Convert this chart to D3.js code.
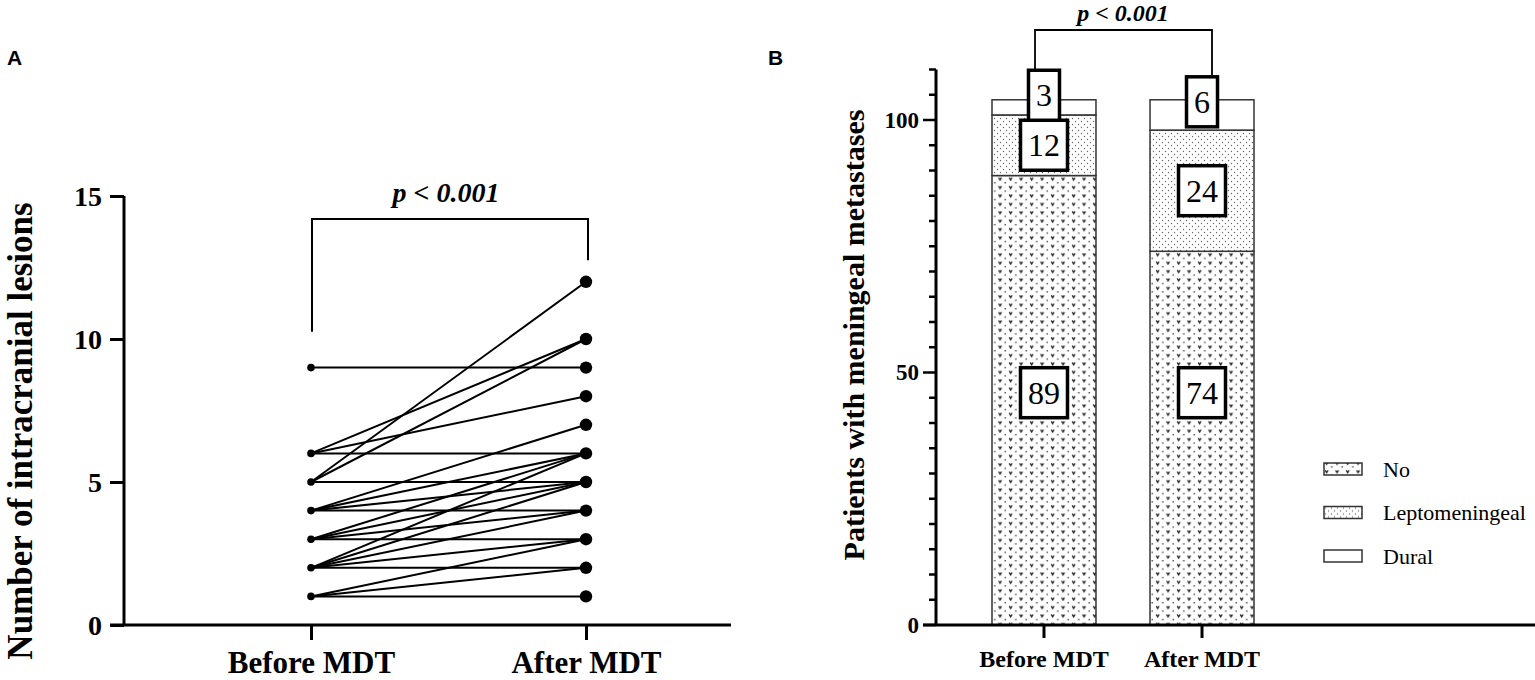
<!DOCTYPE html>
<html><head><meta charset="utf-8">
<script src="https://cdn.jsdelivr.net/npm/d3@7"></script>
<style>html,body{margin:0;padding:0;background:#fff;}svg{display:block;}</style>
</head><body>
<svg id="c" width="1535" height="680"></svg>
<script>
// ---------- DATA ----------
const categoriesA = ["Before MDT", "After MDT"];
const lesionsBefore = [9, 6, 6, 6, 5, 5, 5, 4, 4, 4, 4, 3, 3, 3, 3, 2, 2, 2, 2, 2, 1, 1, 1];
const lesionsAfter  = [9, 10, 8, 6, 12, 10, 5, 7, 6, 5, 4, 6, 5, 4, 3, 6, 5, 4, 3, 2, 3, 2, 1];
const yTicksA = [0, 5, 10, 15];

const categoriesB = ["Before MDT", "After MDT"];
const seriesB = ["No", "Leptomeningeal", "Dural"];
const noValues = [89, 74];
const leptoValues = [12, 24];
const duralValues = [3, 6];
const yMajorTicksB = [0, 50, 100];
const yMinorTicksB = d3.range(0, 111, 5);
const pText = "p < 0.001";

// ---------- SETUP ----------
const svg = d3.select("#c");
const serif = "'Liberation Serif','Times New Roman',serif";
const sans = "'Liberation Sans',Arial,sans-serif";

const defs = svg.append("defs");
const pNo = defs.append("pattern").attr("id", "patNo").attr("patternUnits", "userSpaceOnUse")
  .attr("width", 10.5).attr("height", 8.4);
pNo.append("rect").attr("width", 10.5).attr("height", 8.4).attr("fill", "#fff");
pNo.append("path").attr("d", "M1.2,1.3 L2.6,3.6 L4.0,1.3").attr("fill", "none").attr("stroke", "#222").attr("stroke-width", 1.3);
pNo.append("circle").attr("cx", 7.8).attr("cy", 6.3).attr("r", 0.8).attr("fill", "#333");
const pLep = defs.append("pattern").attr("id", "patLep").attr("patternUnits", "userSpaceOnUse")
  .attr("width", 6).attr("height", 6);
pLep.append("rect").attr("width", 6).attr("height", 6).attr("fill", "#fff");
pLep.append("circle").attr("cx", 1.5).attr("cy", 1.5).attr("r", 0.7).attr("fill", "#666");
pLep.append("circle").attr("cx", 4.5).attr("cy", 4.5).attr("r", 0.7).attr("fill", "#666");
const fills = {"No": "url(#patNo)", "Leptomeningeal": "url(#patLep)", "Dural": "#fff"};

// ---------- PANEL A ----------
const xA = d3.scalePoint().domain(categoriesA).range([311, 586]);
const yA = d3.scaleLinear().domain([0, 15]).range([625, 196]);
const gA = svg.append("g");

const yAxisA = d3.axisLeft(yA).tickValues(yTicksA).tickSize(14).tickPadding(8);
const gyA = gA.append("g").attr("transform", "translate(124,0)").call(yAxisA);
gyA.select(".domain").attr("stroke-width", 3).attr("d", `M0,${yA(15)}V${yA(0)}`);
gyA.selectAll(".tick line").attr("stroke-width", 3);
gyA.selectAll(".tick text").attr("font-family", serif).attr("font-weight", "bold").attr("font-size", 28).attr("dy", "0.34em");

const xAxisA = d3.axisBottom(xA).tickSize(15).tickPadding(11);
const gxA = gA.append("g").attr("transform", `translate(0,${yA(0)})`).call(xAxisA);
gxA.select(".domain").attr("stroke-width", 3).attr("d", "M110,0H731");
gxA.selectAll(".tick line").attr("stroke-width", 3);
gxA.selectAll(".tick text").attr("font-family", serif).attr("font-weight", "bold").attr("font-size", 31).attr("fill", "#000");

const pairs = lesionsBefore.map((b, i) => ({b, a: lesionsAfter[i]}));
gA.append("g").selectAll("line").data(pairs).join("line")
  .attr("x1", xA(categoriesA[0])).attr("x2", xA(categoriesA[1]))
  .attr("y1", d => yA(d.b)).attr("y2", d => yA(d.a))
  .attr("stroke", "#000").attr("stroke-width", 2);
gA.append("g").selectAll("circle").data(Array.from(new Set(lesionsBefore))).join("circle")
  .attr("cx", xA(categoriesA[0])).attr("cy", d => yA(d)).attr("r", 3.8).attr("fill", "#000");
gA.append("g").selectAll("circle").data(Array.from(new Set(lesionsAfter))).join("circle")
  .attr("cx", xA(categoriesA[1])).attr("cy", d => yA(d)).attr("r", 6.2).attr("fill", "#000");

const bTop = 219;
gA.append("path").attr("d", `M${xA(categoriesA[0])+1},${yA(10.25)}V${bTop}H${xA(categoriesA[1])+2}V${yA(12.75)}`)
  .attr("fill", "none").attr("stroke", "#000").attr("stroke-width", 2);
gA.append("text").attr("x", 446).attr("y", 202).attr("text-anchor", "middle")
  .attr("font-family", serif).attr("font-weight", "bold").attr("font-style", "italic").attr("font-size", 28)
  .text(pText);

gA.append("text").attr("transform", "translate(32,431) rotate(-90)").attr("text-anchor", "middle")
  .attr("font-family", serif).attr("font-weight", "bold").attr("font-size", 35)
  .text("Number of intracranial lesions");
gA.append("text").attr("x", 7).attr("y", 65).attr("font-family", sans).attr("font-weight", "bold").attr("font-size", 21).text("A");

// ---------- PANEL B ----------
const xB = d3.scaleBand().domain(categoriesB).range([992, 1254]).paddingInner(0.342).paddingOuter(0);
const yB = d3.scaleLinear().domain([0, 110]).range([625, 69.5]);
const gB = svg.append("g");

const rows = categoriesB.map((c, i) => ({cat: c, No: noValues[i], Leptomeningeal: leptoValues[i], Dural: duralValues[i]}));
const stack = d3.stack().keys(seriesB)(rows);

gB.append("g").selectAll("g").data(stack).join("g")
  .attr("fill", d => fills[d.key])
  .selectAll("rect").data(d => d).join("rect")
  .attr("x", d => xB(d.data.cat)).attr("width", xB.bandwidth())
  .attr("y", d => yB(d[1])).attr("height", d => yB(d[0]) - yB(d[1]))
  .attr("stroke", "#333").attr("stroke-width", 1.5);

const gyB = gB.append("g").attr("transform", "translate(936,0)");
gyB.append("path").attr("d", `M0,${yB(110)}V${yB(0)}`).attr("stroke", "#000").attr("stroke-width", 3);
gyB.selectAll("line.minor").data(yMinorTicksB).join("line").attr("class", "minor")
  .attr("x1", d => yMajorTicksB.includes(d) ? -13 : -7).attr("x2", 0)
  .attr("y1", d => yB(d)).attr("y2", d => yB(d)).attr("stroke", "#000").attr("stroke-width", 2.5);
gyB.selectAll("text").data(yMajorTicksB).join("text")
  .attr("x", -17).attr("y", d => yB(d)).attr("dy", "0.34em").attr("text-anchor", "end")
  .attr("font-family", serif).attr("font-weight", "bold").attr("font-size", 23).text(d => d);

const xAxisB = d3.axisBottom(xB).tickSize(13).tickPadding(12);
const gxB = gB.append("g").attr("transform", `translate(0,${yB(0)})`).call(xAxisB);
gxB.select(".domain").attr("stroke-width", 3).attr("d", "M923,0H1535");
gxB.selectAll(".tick line").attr("stroke-width", 3);
gxB.selectAll(".tick text").attr("font-family", serif).attr("font-weight", "bold").attr("font-size", 24).attr("fill", "#000");

const labelCenter = {No: () => 46, Leptomeningeal: d => (d[0] + d[1]) / 2, Dural: (d, i) => [104.9, 103.6][i]};
const labels = [];
stack.forEach(s => s.forEach((d, i) => labels.push({key: s.key, i, val: d[1] - d[0], cx: xB(d.data.cat) + xB.bandwidth() / 2, v: labelCenter[s.key](d, i)})));
const gl = gB.append("g");
labels.forEach(l => {
  const t = gl.append("text").attr("x", l.cx).attr("y", yB(l.v)).attr("dy", "0.35em").attr("text-anchor", "middle")
    .attr("font-family", serif).attr("font-size", 32).text(l.val);
  const w = t.node().getComputedTextLength() + 15;
  gl.insert("rect", () => t.node()).attr("x", l.cx - w / 2).attr("y", yB(l.v) - 25).attr("width", w).attr("height", 50)
    .attr("fill", "#fff").attr("stroke", "#000").attr("stroke-width", 3.5);
});

gB.append("path").attr("d", `M1035,${yB(110.1)}V30H1212V${yB(108.9)}`)
  .attr("fill", "none").attr("stroke", "#000").attr("stroke-width", 1.8);
gB.append("text").attr("x", 1123).attr("y", 21).attr("text-anchor", "middle")
  .attr("font-family", serif).attr("font-weight", "bold").attr("font-style", "italic").attr("font-size", 24)
  .text(pText);

gB.append("text").attr("transform", "translate(864,335) rotate(-90)").attr("text-anchor", "middle")
  .attr("font-family", serif).attr("font-weight", "bold").attr("font-size", 30)
  .text("Patients with meningeal metastases");
gB.append("text").attr("x", 768).attr("y", 65).attr("font-family", sans).attr("font-weight", "bold").attr("font-size", 21).text("B");

const lg = gB.append("g").selectAll("g").data(seriesB).join("g")
  .attr("transform", (d, i) => `translate(1324,${469 + i * 43.5})`);
lg.append("rect").attr("x", 0).attr("y", -6).attr("width", 38).attr("height", 12)
  .attr("fill", d => fills[d]).attr("stroke", "#333").attr("stroke-width", 1.5);
lg.append("text").attr("x", 59).attr("y", 0).attr("dy", "0.35em").attr("font-family", serif).attr("font-size", 22).text(d => d);
</script>
</body></html>
